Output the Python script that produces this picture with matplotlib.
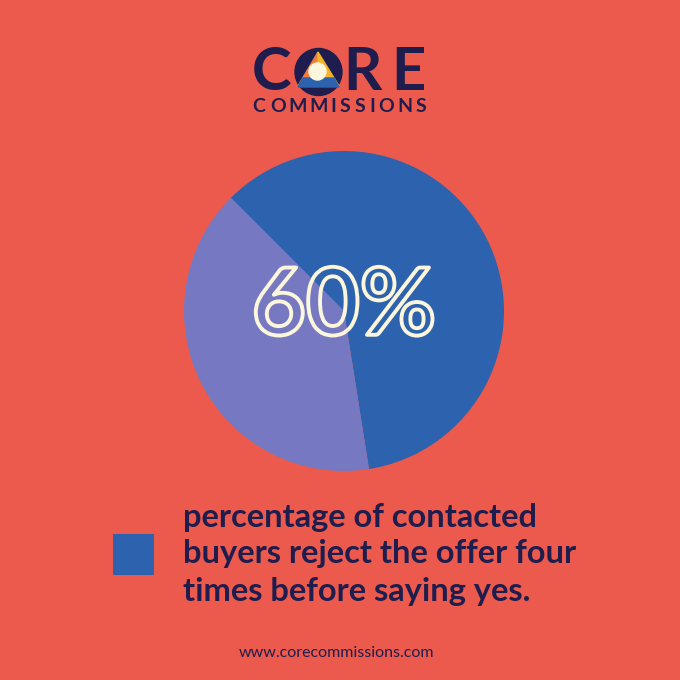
import numpy as np
import matplotlib
matplotlib.use("Agg")
import matplotlib.pyplot as plt
import matplotlib.patheffects as pe
from matplotlib.patches import Circle, Polygon, Rectangle
from matplotlib.textpath import TextPath
from matplotlib.font_manager import FontProperties

# data
labels = ["reject four times", "other"]
shares = [60, 40]
big_label = "60%"
caption = ["percentage of contacted",
           "buyers reject the offer four",
           "times before saying yes."]
brand_top = "CORE"
brand_bottom = "COMMISSIONS"
url = "www.corecommissions.com"

BG = "#EB5A4C"
BLUE = "#2C62AE"
LAVENDER = "#7679C2"
NAVY = "#1E1D4E"
CREAM = "#FBF6DC"

plt.rcParams["font.family"] = ["Lato", "DejaVu Sans"]

fig = plt.figure(figsize=(6.8, 6.8), dpi=100, facecolor=BG)

# pixel canvas for the decorations
ax = fig.add_axes([0, 0, 1, 1])
ax.set_xlim(0, 680)
ax.set_ylim(680, 0)
ax.axis("off")

# pie
pax = fig.add_axes([184 / 680, (680 - 471) / 680, 320 / 680, 320 / 680])
pax.pie(shares, colors=[BLUE, LAVENDER], startangle=135, counterclock=False,
        radius=1.0, wedgeprops=dict(linewidth=0))
pax.set_xlim(-1, 1)
pax.set_ylim(-1, 1)
pax.axis("off")

pax.text(0, 0.02, big_label, ha="center", va="center", fontsize=67,
         fontweight="bold", color=(0, 0, 0, 0), zorder=5,
         path_effects=[pe.Stroke(linewidth=2.8, foreground=CREAM)])

# logo: C [mark] R E
for x, ch in [(272, "C"), (362, "R"), (408, "E")]:
    ax.text(x, 73, ch, ha="center", va="center", fontsize=43,
            fontweight="bold", color=NAVY)
ax.add_patch(Circle((318.5, 72), 23.5, color=NAVY))
ax.add_patch(Polygon([[318, 52], [298, 86], [318, 86]], closed=True, color="#F07C3C"))
ax.add_patch(Polygon([[318, 52], [339, 86], [318, 86]], closed=True, color="#F6B42A"))
ax.add_patch(Polygon([[303, 78], [334, 78], [339, 87], [298, 87]], closed=True, color=BLUE))
ax.add_patch(Circle((317.5, 71.5), 8.5, color=CREAM))

# letter-spaced "COMMISSIONS" between x=253 and x=426
fp = FontProperties(family="Lato", weight="bold", size=14)
px_per_pt = 100 / 72
widths = [TextPath((0, 0), ch, prop=fp).get_extents().width * px_per_pt
          for ch in brand_bottom]
track = (426 - 253 - sum(widths)) / (len(brand_bottom) - 1)
x = 253
for ch, w in zip(brand_bottom, widths):
    ax.text(x + w / 2, 107, ch, ha="center", va="center", fontproperties=fp,
            color=NAVY)
    x += w + track

# legend square + caption
ax.add_patch(Rectangle((113, 534), 41, 41, color=BLUE, linewidth=0))
for i, line in enumerate(caption):
    ax.text(183, 517 + 37 * i, line, ha="left", va="center", fontsize=23.5,
            fontweight="bold", color=NAVY)

ax.text(336, 653, url, ha="center", va="center", fontsize=11.5, color=NAVY)

fig.savefig("out.png", dpi=100, facecolor=BG)
